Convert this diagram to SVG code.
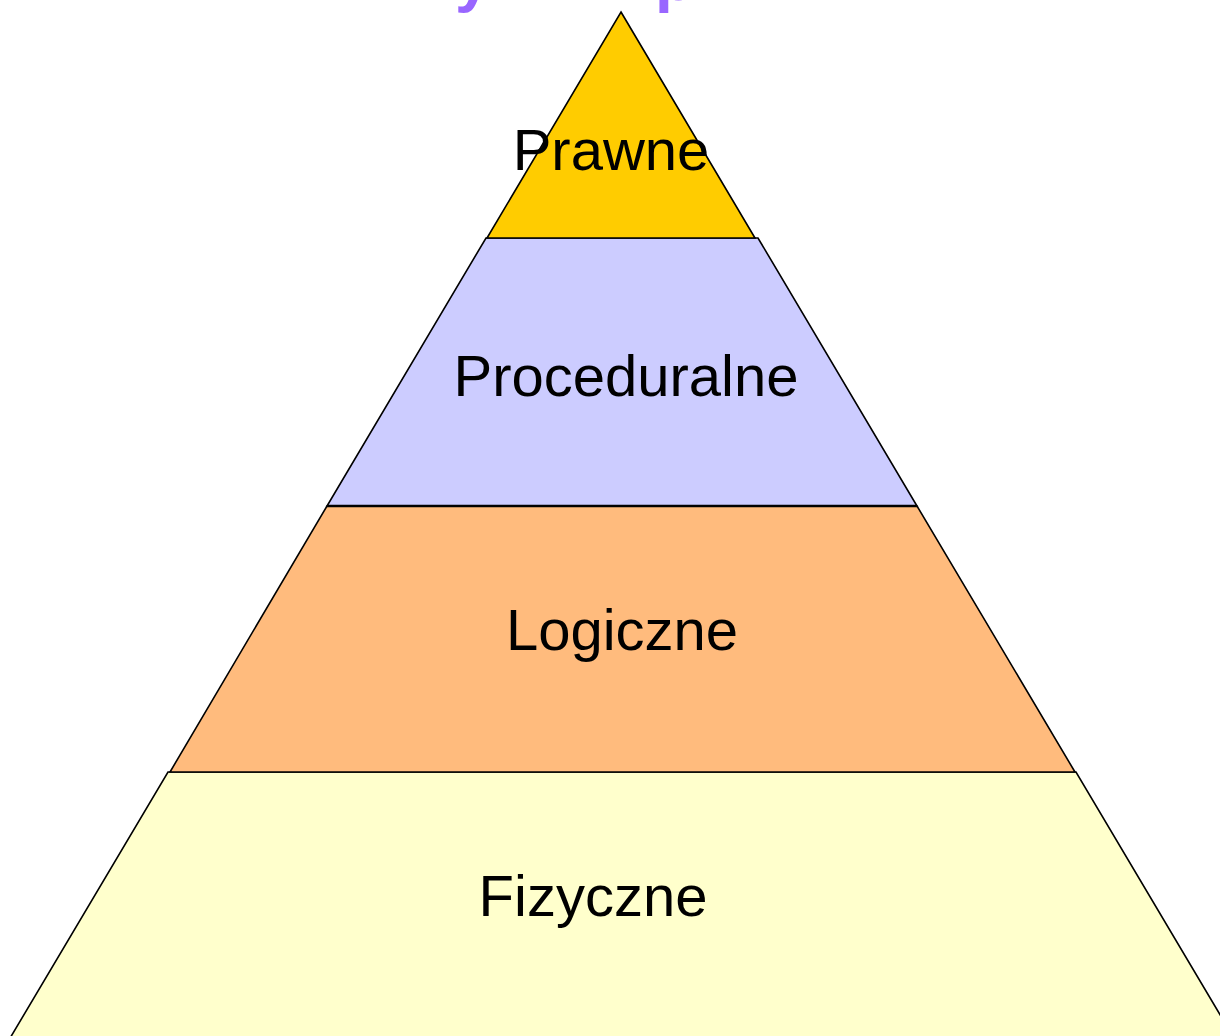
<svg xmlns="http://www.w3.org/2000/svg" width="1220" height="1036" viewBox="0 0 1220 1036">
<style>
.layer{stroke:#000;stroke-width:1.6;stroke-linejoin:miter}
.lbl{font-family:"Liberation Sans",Arial,sans-serif;font-size:58px;fill:#000;text-anchor:middle}
.title{font-family:"Liberation Sans",Arial,sans-serif;font-size:64px;font-weight:bold;fill:#9966ff}
</style>
<rect width="1220" height="1036" fill="#fff"/>
<g id="title">
<text class="title" x="455" y="0">y</text>
<text class="title" x="655" y="0">p</text>
</g>
<g id="fizyczne">
<polygon class="layer" points="168,772 1076,772 1241,1050 3,1050" fill="#ffffcc"/>
<text class="lbl" x="593" y="916">Fizyczne</text>
</g>
<g id="logiczne">
<polygon class="layer" points="327,506 917,506 1075,772 170,772" fill="#ffbb7d"/>
<text class="lbl" x="622" y="650">Logiczne</text>
</g>
<g id="proceduralne">
<polygon class="layer" points="486,238 758,238 917,506 327,506" fill="#ccccff"/>
<line x1="327" y1="506" x2="917" y2="506" stroke="#000" stroke-width="2.6"/>
<text class="lbl" x="626" y="396">Proceduralne</text>
</g>
<g id="prawne">
<polygon class="layer" points="621,12 755,238 487,238" fill="#ffcc00"/>
<text class="lbl" x="611" y="170">Prawne</text>
</g>
<g id="connectors"></g>
</svg>
